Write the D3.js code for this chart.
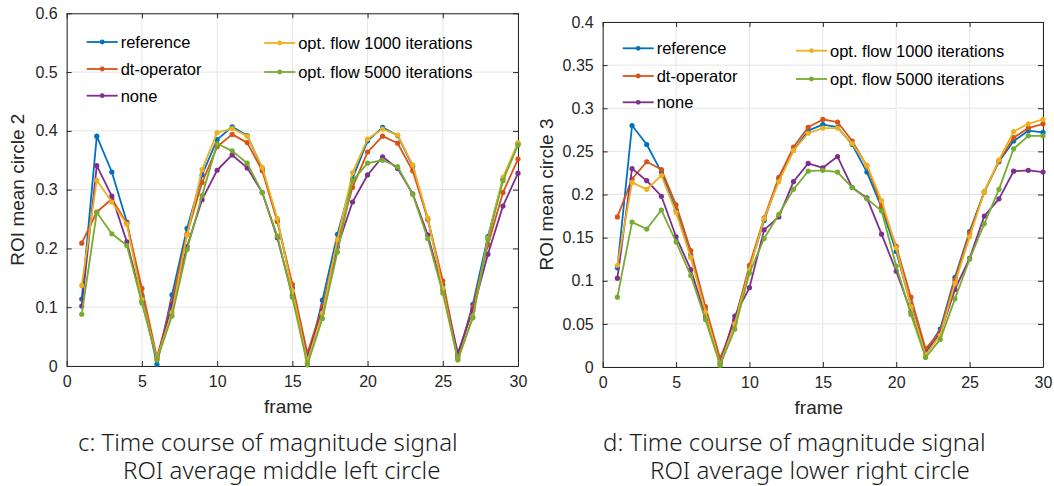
<!DOCTYPE html>
<html>
<head>
<meta charset="utf-8">
<script src="https://cdn.jsdelivr.net/npm/d3@7"></script>
<style>
  body { margin: 0; background: #fff; }
  svg { display: block; }
  .tick text { font-family: "Liberation Sans", Arial, sans-serif; }
</style>
</head>
<body>
<svg id="chart" width="1054" height="486"></svg>
<script>
const frames = [1, 2, 3, 4, 5, 6, 7, 8, 9, 10, 11, 12, 13, 14, 15, 16, 17, 18, 19, 20, 21, 22, 23, 24, 25, 26, 27, 28, 29, 30];
const seriesNames = ["reference", "dt-operator", "none", "opt. flow 1000 iterations", "opt. flow 5000 iterations"];
const seriesColors = ["#0072BD", "#D95319", "#7E2F8E", "#EDB120", "#77AC30"];

// panel c: ROI mean circle 2
const c2Reference = [0.114, 0.391, 0.330, 0.245, 0.120, 0.003, 0.121, 0.234, 0.325, 0.385, 0.407, 0.392, 0.336, 0.248, 0.133, 0.005, 0.112, 0.224, 0.319, 0.383, 0.406, 0.392, 0.340, 0.250, 0.138, 0.015, 0.105, 0.220, 0.318, 0.378];
const c2DtOperator = [0.209, 0.262, 0.284, 0.243, 0.132, 0.015, 0.109, 0.225, 0.312, 0.373, 0.394, 0.380, 0.332, 0.246, 0.139, 0.022, 0.101, 0.210, 0.304, 0.364, 0.391, 0.379, 0.332, 0.250, 0.145, 0.018, 0.100, 0.206, 0.295, 0.352];
const c2None = [0.102, 0.341, 0.289, 0.211, 0.110, 0.012, 0.104, 0.203, 0.283, 0.333, 0.359, 0.337, 0.295, 0.218, 0.120, 0.015, 0.096, 0.203, 0.279, 0.325, 0.356, 0.336, 0.293, 0.223, 0.130, 0.022, 0.095, 0.190, 0.272, 0.328];
const c2Flow1000 = [0.137, 0.316, 0.279, 0.241, 0.113, 0.013, 0.091, 0.223, 0.334, 0.397, 0.404, 0.391, 0.338, 0.251, 0.128, 0.008, 0.090, 0.215, 0.329, 0.386, 0.403, 0.393, 0.342, 0.252, 0.132, 0.010, 0.084, 0.217, 0.321, 0.380];
const c2Flow5000 = [0.088, 0.261, 0.225, 0.205, 0.107, 0.010, 0.085, 0.198, 0.290, 0.378, 0.366, 0.345, 0.295, 0.221, 0.117, 0.002, 0.081, 0.194, 0.315, 0.345, 0.350, 0.339, 0.292, 0.217, 0.124, 0.011, 0.082, 0.215, 0.315, 0.376];

// panel d: ROI mean circle 3
const c3Reference = [0.115, 0.280, 0.258, 0.226, 0.182, 0.130, 0.066, 0.006, 0.055, 0.115, 0.170, 0.218, 0.251, 0.274, 0.281, 0.278, 0.258, 0.226, 0.185, 0.134, 0.072, 0.018, 0.044, 0.104, 0.157, 0.203, 0.238, 0.262, 0.274, 0.272];
const c3DtOperator = [0.174, 0.218, 0.238, 0.229, 0.188, 0.135, 0.070, 0.010, 0.052, 0.118, 0.173, 0.220, 0.255, 0.278, 0.287, 0.284, 0.262, 0.233, 0.187, 0.140, 0.081, 0.021, 0.041, 0.101, 0.155, 0.203, 0.239, 0.266, 0.277, 0.282];
const c3None = [0.103, 0.230, 0.216, 0.198, 0.151, 0.113, 0.059, 0.004, 0.059, 0.092, 0.159, 0.174, 0.215, 0.236, 0.231, 0.244, 0.208, 0.196, 0.154, 0.111, 0.064, 0.016, 0.039, 0.090, 0.126, 0.175, 0.195, 0.227, 0.228, 0.226];
const c3Flow1000 = [0.118, 0.214, 0.206, 0.222, 0.179, 0.127, 0.064, 0.003, 0.050, 0.113, 0.172, 0.215, 0.251, 0.271, 0.277, 0.277, 0.259, 0.234, 0.193, 0.138, 0.070, 0.014, 0.037, 0.097, 0.151, 0.203, 0.240, 0.273, 0.282, 0.287];
const c3Flow5000 = [0.081, 0.168, 0.160, 0.182, 0.145, 0.106, 0.055, 0.002, 0.044, 0.109, 0.149, 0.177, 0.206, 0.227, 0.228, 0.226, 0.208, 0.195, 0.181, 0.117, 0.061, 0.011, 0.032, 0.079, 0.125, 0.166, 0.206, 0.253, 0.268, 0.268];

const xTicks = [0, 5, 10, 15, 20, 25, 30];
const yTicksC2 = [0, 0.1, 0.2, 0.3, 0.4, 0.5, 0.6];
const yTicksC3 = [0, 0.05, 0.1, 0.15, 0.2, 0.25, 0.3, 0.35, 0.4];

const svg = d3.select("#chart");
const axisColor = "#262626";
const tickFont = '"Liberation Sans", Arial, sans-serif';

function drawPanel(p) {
  const g = svg.append("g");
  const x = d3.scaleLinear().domain([0, 30]).range([p.left, p.right]);
  const y = d3.scaleLinear().domain([0, p.yMax]).range([p.bottom, p.top]);

  // grid
  g.append("g").selectAll("line").data(xTicks).join("line")
    .attr("x1", d => x(d)).attr("x2", d => x(d))
    .attr("y1", p.top).attr("y2", p.bottom)
    .attr("stroke", "#e5e5e5").attr("stroke-width", 1);
  g.append("g").selectAll("line").data(p.yTicks).join("line")
    .attr("x1", p.left).attr("x2", p.right)
    .attr("y1", d => y(d)).attr("y2", d => y(d))
    .attr("stroke", "#e5e5e5").attr("stroke-width", 1);

  // axes (ticks pointing inward like matlab)
  g.append("g")
    .attr("transform", `translate(0,${p.bottom})`)
    .call(d3.axisBottom(x).tickValues(xTicks).tickSizeInner(-5).tickSizeOuter(0).tickPadding(10));
  g.append("g")
    .attr("transform", `translate(${p.left},0)`)
    .call(d3.axisLeft(y).tickValues(p.yTicks).tickSizeInner(-5).tickSizeOuter(0).tickPadding(9).tickFormat(d => String(+d.toFixed(2))));
  g.append("g")
    .attr("transform", `translate(0,${p.top})`)
    .call(d3.axisTop(x).tickValues(xTicks).tickSizeInner(-5).tickSizeOuter(0).tickFormat(""));
  g.append("g")
    .attr("transform", `translate(${p.right},0)`)
    .call(d3.axisRight(y).tickValues(p.yTicks).tickSizeInner(-5).tickSizeOuter(0).tickFormat(""));
  g.selectAll(".domain, .tick line").attr("stroke", axisColor);
  g.selectAll(".tick text").attr("fill", axisColor).style("font-size", "16px");

  // series
  const line = d3.line().x((d, i) => x(frames[i])).y(d => y(d));
  p.series.forEach((vals, si) => {
    g.append("path").datum(vals)
      .attr("d", line)
      .attr("fill", "none")
      .attr("stroke", seriesColors[si])
      .attr("stroke-width", 1.8)
      .attr("stroke-linejoin", "round");
    g.append("g").selectAll("circle").data(vals).join("circle")
      .attr("cx", (d, i) => x(frames[i]))
      .attr("cy", d => y(d))
      .attr("r", 2.6)
      .attr("fill", seriesColors[si]);
  });

  // legend
  seriesNames.forEach((name, si) => {
    const col = si < 3 ? 0 : 1;
    const row = si < 3 ? si : si - 3;
    const lx = p.left + p.legCols[col];
    const ly = p.top + p.legRows[col][row];
    g.append("line")
      .attr("x1", lx).attr("x2", lx + 31)
      .attr("y1", ly).attr("y2", ly)
      .attr("stroke", seriesColors[si]).attr("stroke-width", 1.8);
    g.append("circle").attr("cx", lx + 15.5).attr("cy", ly).attr("r", 2.4).attr("fill", seriesColors[si]);
    g.append("text")
      .attr("x", lx + 34).attr("y", ly + 6)
      .attr("font-family", tickFont).attr("font-size", 16.5)
      .attr("fill", "#000")
      .text(name);
  });

  // axis labels
  g.append("text")
    .attr("x", (p.left + p.right) / 2 - 4).attr("y", p.bottom + 47)
    .attr("text-anchor", "middle")
    .attr("font-family", tickFont).attr("font-size", 19).attr("fill", axisColor)
    .text("frame");
  g.append("text")
    .attr("transform", `translate(${p.yLabelX},${(p.top + p.bottom) / 2}) rotate(-90)`)
    .attr("text-anchor", "middle")
    .attr("font-family", tickFont).attr("font-size", 19).attr("fill", axisColor)
    .text(p.yLabel);

  // caption
  p.caption.forEach((c, i) => {
    g.append("text")
      .attr("x", c.x).attr("y", 451 + i * 28)
      .attr("font-family", '"Noto Sans", "Open Sans", sans-serif')
      .attr("font-weight", 300)
      .attr("font-size", 24).attr("fill", "#1a1a1a")
      .text(c.text);
  });
}

drawPanel({
  left: 66.7, right: 518, top: 13.3, bottom: 366,
  yMax: 0.6, yTicks: yTicksC2,
  series: [c2Reference, c2DtOperator, c2None, c2Flow1000, c2Flow5000],
  yLabel: "ROI mean circle 2", yLabelX: 24,
  legCols: [20, 197.5],
  legRows: [[28.7, 55.7, 82.4], [29.7, 58.7]],
  caption: [
    { x: 78, text: "c: Time course of magnitude signal" },
    { x: 123, text: "ROI average middle left circle" }
  ]
});

drawPanel({
  left: 602.7, right: 1043, top: 22, bottom: 367,
  yMax: 0.4, yTicks: yTicksC3,
  series: [c3Reference, c3DtOperator, c3None, c3Flow1000, c3Flow5000],
  yLabel: "ROI mean circle 3", yLabelX: 553,
  legCols: [20, 193.3],
  legRows: [[26.3, 54, 80.3], [28.7, 57]],
  caption: [
    { x: 603, text: "d: Time course of magnitude signal" },
    { x: 650, text: "ROI average lower right circle" }
  ]
});
</script>
</body>
</html>
